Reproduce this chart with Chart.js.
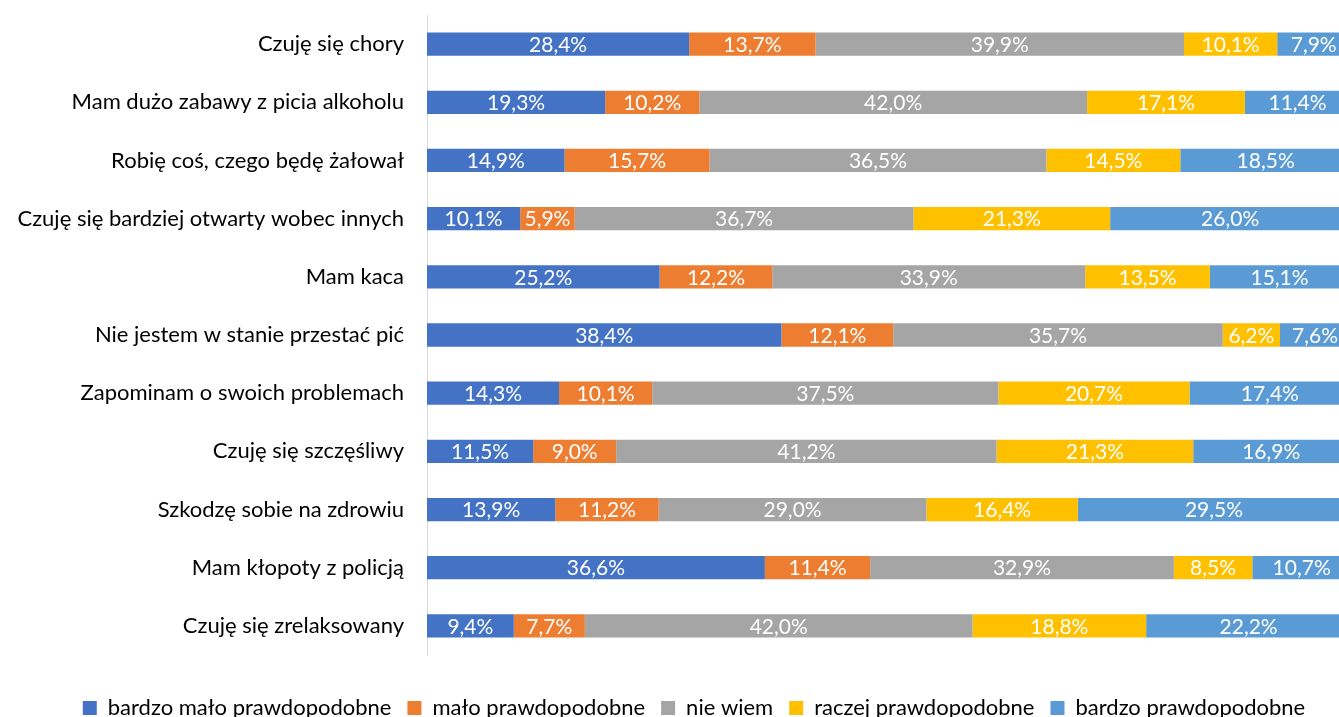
<!DOCTYPE html>
<html>
<head>
<meta charset="utf-8">
<script src="https://cdn.jsdelivr.net/npm/chart.js@4/dist/chart.umd.min.js"></script>
<style>
html,body{margin:0;padding:0;overflow:hidden;background:#fff}
#wrap{width:1339px;height:717px;overflow:hidden;position:relative}
#c{position:absolute;left:0;top:0}
</style>
</head>
<body>
<div id="wrap"><canvas id="c" width="1388" height="729"></canvas></div>
<script>
const categories = [
  'Czuję się chory',
  'Mam dużo zabawy z picia alkoholu',
  'Robię coś, czego będę żałował',
  'Czuję się bardziej otwarty wobec innych',
  'Mam kaca',
  'Nie jestem w stanie przestać pić',
  'Zapominam o swoich problemach',
  'Czuję się szczęśliwy',
  'Szkodzę sobie na zdrowiu',
  'Mam kłopoty z policją',
  'Czuję się zrelaksowany'
];
const seriesNames = ['bardzo mało prawdopodobne','mało prawdopodobne','nie wiem','raczej prawdopodobne','bardzo prawdopodobne'];
const bardzoMalo   = [28.4, 19.3, 14.9, 10.1, 25.2, 38.4, 14.3, 11.5, 13.9, 36.6, 9.4];
const malo         = [13.7, 10.2, 15.7,  5.9, 12.2, 12.1, 10.1,  9.0, 11.2, 11.4, 7.7];
const nieWiem      = [39.9, 42.0, 36.5, 36.7, 33.9, 35.7, 37.5, 41.2, 29.0, 32.9, 42.0];
const raczej       = [10.1, 17.1, 14.5, 21.3, 13.5,  6.2, 20.7, 21.3, 16.4,  8.5, 18.8];
const bardzo       = [ 7.9, 11.4, 18.5, 26.0, 15.1,  7.6, 17.4, 16.9, 29.5, 10.7, 22.2];
const seriesValues = [bardzoMalo, malo, nieWiem, raczej, bardzo];
const colors = ['#4472C4','#ED7D31','#A5A5A5','#FFC000','#5B9BD5'];

const FONT = 'Lato';

const valueLabels = {
  id: 'valueLabels',
  afterDatasetsDraw(chart) {
    const ctx = chart.ctx;
    ctx.save();
    ctx.font = '21px ' + FONT;
    ctx.fillStyle = '#ffffff';
    ctx.textAlign = 'center';
    ctx.textBaseline = 'middle';
    chart.data.datasets.forEach((ds, i) => {
      const meta = chart.getDatasetMeta(i);
      meta.data.forEach((el, j) => {
        const v = ds.data[j];
        const x = (el.x + el.base) / 2;
        ctx.fillText(v.toFixed(1).replace('.', ',') + '%', x, el.y + 1);
      });
    });
    ctx.restore();
  }
};

new Chart(document.getElementById('c'), {
  type: 'bar',
  data: {
    labels: categories,
    datasets: seriesNames.map((name, i) => ({
      label: name,
      data: seriesValues[i],
      backgroundColor: colors[i],
      borderWidth: 0,
      barPercentage: 0.4,
      categoryPercentage: 1
    }))
  },
  options: {
    indexAxis: 'y',
    responsive: false,
    animation: false,
    layout: { padding: { top: 15, left: 0, right: 0, bottom: 0 } },
    scales: {
      x: {
        stacked: true,
        min: 0,
        max: 104.1,
        display: false
      },
      y: {
        stacked: true,
        grid: { display: false, drawTicks: false },
        border: { display: true, color: '#d9d9d9', width: 1 },
        ticks: { color: '#000', font: { family: FONT, size: 22 }, padding: 23 },
        afterFit(scale) { scale.width = 427; scale.paddingTop = 0; scale.paddingBottom = 0; }
      }
    },
    plugins: {
      legend: {
        position: 'bottom',
        title: { display: true, text: ' ', font: { size: 10 }, padding: { top: 7, bottom: 7 } },
        labels: {
          boxWidth: 14,
          boxHeight: 14,
          padding: 16,
          color: '#000',
          font: { family: FONT, size: 22 }
        }
      },
      tooltip: { enabled: false }
    }
  },
  plugins: [valueLabels]
});
</script>
</body>
</html>
